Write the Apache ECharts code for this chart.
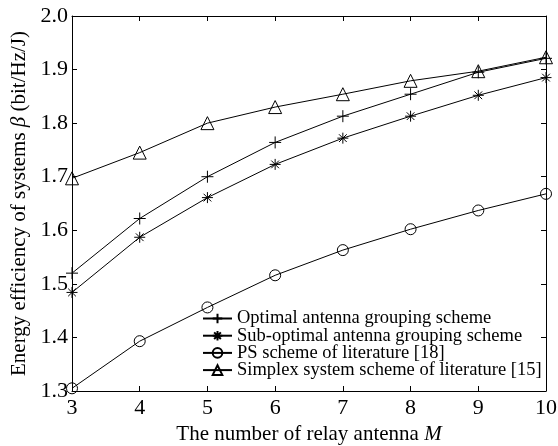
<!DOCTYPE html>
<html><head><meta charset="utf-8">
<script src="https://cdn.jsdelivr.net/npm/echarts@6/dist/echarts.min.js"></script>
<style>html,body{margin:0;padding:0;background:#fff}#c{width:558px;height:446px}</style>
</head><body><div id="c"></div>
<script>
const categories = [3, 4, 5, 6, 7, 8, 9, 10];
const optimal = [1.520, 1.622, 1.700, 1.764, 1.813, 1.854, 1.895, 1.921];
const subOptimal = [1.484, 1.587, 1.661, 1.723, 1.772, 1.813, 1.852, 1.885];
const psScheme = [1.305, 1.393, 1.456, 1.516, 1.563, 1.602, 1.637, 1.668];
const simplex = [1.697, 1.745, 1.800, 1.830, 1.854, 1.879, 1.897, 1.923];
const seriesNames = ['Optimal antenna grouping scheme', 'Sub-optimal antenna grouping scheme', 'PS scheme of literature [18]', 'Simplex system scheme of literature [15]'];
const xRange = [3, 10, 1];
const yRange = [1.3, 2.0, 0.1];

const FONT = 'Liberation Serif';
const chart = echarts.init(document.getElementById('c'));
const plusPath = 'path://M0,-1L0,1M-1,0L1,0';
const starPath = 'path://M0,-1L0,1M-1,0L1,0M-0.7,-0.7L0.7,0.7M-0.7,0.7L0.7,-0.7';
function mk(name, vals, symbol, size) {
  return {
    name: name, type: 'line', data: categories.map((x, i) => [x, vals[i]]),
    symbol: symbol, symbolSize: size, showSymbol: true,
    lineStyle: { color: '#000', width: 1 },
    itemStyle: { color: 'rgba(0,0,0,0)', borderColor: '#000', borderWidth: 1 },
    emphasis: { disabled: true }, animation: false, z: 3
  };
}
const axisCommon = {
  axisLine: { show: true, lineStyle: { color: '#000', width: 1 } },
  axisTick: { show: true, inside: true, length: 5, lineStyle: { color: '#000' } },
  splitLine: { show: false }
};
chart.setOption({
  animation: false,
  backgroundColor: '#fff',
  grid: { left: 72, right: 12, top: 16, bottom: 55, outerBoundsMode: 'none', containLabel: false },
  legend: {
    orient: 'vertical', left: 202, top: 309, padding: 0,
    itemWidth: 29, itemHeight: 12, itemGap: -1.8,
    data: seriesNames,
    textStyle: { fontFamily: FONT, fontSize: 18.5, color: '#000' },
    inactiveColor: '#000'
  },
  xAxis: [
    Object.assign({ type: 'value', min: xRange[0], max: xRange[1], interval: xRange[2], position: 'bottom',
      name: 'The number of relay antenna {i|M}', nameLocation: 'middle', nameGap: 28,
      nameTextStyle: { fontFamily: FONT, fontSize: 21, color: '#000', rich: { i: { fontFamily: FONT, fontSize: 21, fontStyle: 'italic', color: '#000' } } },
      axisLabel: { fontFamily: FONT, fontSize: 22, color: '#000', margin: 6 } }, axisCommon),
    Object.assign({ type: 'value', min: xRange[0], max: xRange[1], interval: xRange[2], position: 'top',
      axisLabel: { show: false } }, axisCommon)
  ],
  yAxis: [
    Object.assign({ type: 'value', min: yRange[0], max: yRange[1], interval: yRange[2], position: 'left',
      name: 'Energy efficiency of systems {i|β} (bit/Hz/J)', nameLocation: 'middle', nameGap: 37,
      nameTextStyle: { fontFamily: FONT, fontSize: 21, color: '#000', rich: { i: { fontFamily: FONT, fontSize: 21, fontStyle: 'italic', color: '#000' } } },
      axisLabel: { fontFamily: FONT, fontSize: 22, color: '#000', margin: 4, formatter: v => v.toFixed(1) } }, axisCommon),
    Object.assign({ type: 'value', min: yRange[0], max: yRange[1], interval: yRange[2], position: 'right',
      axisLabel: { show: false } }, axisCommon)
  ],
  series: [
    mk(seriesNames[0], optimal, plusPath, 12),
    mk(seriesNames[1], subOptimal, starPath, 11),
    mk(seriesNames[2], psScheme, 'circle', 11),
    mk(seriesNames[3], simplex, 'triangle', 13)
  ]
});
</script></body></html>
